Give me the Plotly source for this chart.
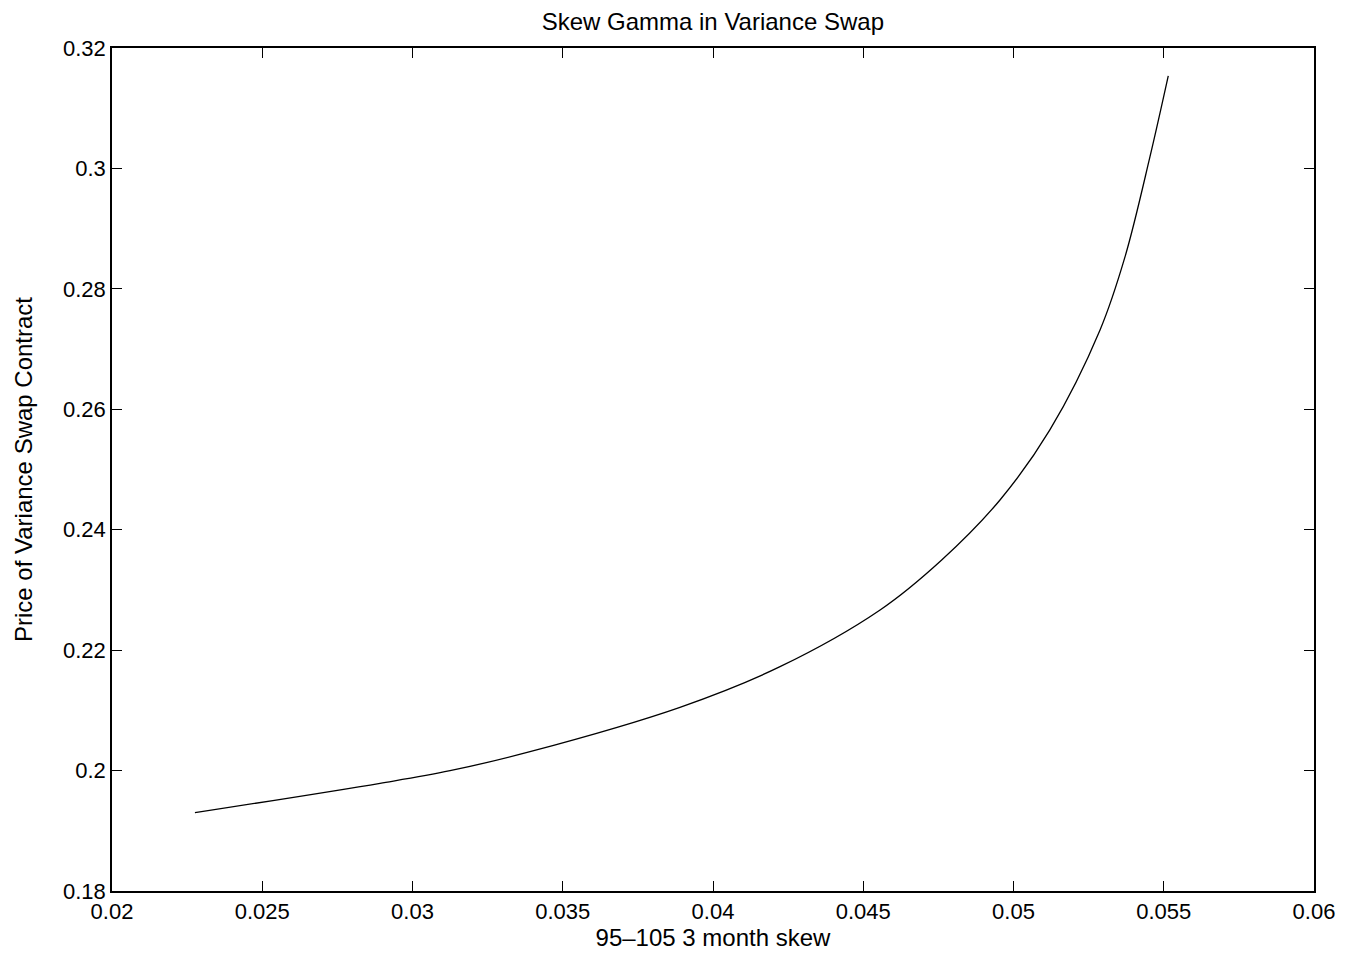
import plotly.graph_objects as go

skew = [0.02276, 0.02892, 0.03125, 0.03391, 0.03890, 0.04223, 0.04556, 0.04761,
        0.04955, 0.05121, 0.05288, 0.05371, 0.05454, 0.05515]
price = [0.19300, 0.19789, 0.19998, 0.20314, 0.21051, 0.21725, 0.22667, 0.23497,
         0.24494, 0.25657, 0.27317, 0.28530, 0.30191, 0.31536]

x_ticks = [0.02, 0.025, 0.03, 0.035, 0.04, 0.045, 0.05, 0.055, 0.06]
x_labels = ["0.02", "0.025", "0.03", "0.035", "0.04", "0.045", "0.05", "0.055", "0.06"]
y_ticks = [0.18, 0.2, 0.22, 0.24, 0.26, 0.28, 0.3, 0.32]
y_labels = ["0.18", "0.2", "0.22", "0.24", "0.26", "0.28", "0.3", "0.32"]

FONT = "Liberation Sans, Arial, Helvetica, sans-serif"

fig = go.Figure()
fig.add_trace(go.Scatter(x=skew, y=price, mode="lines",
                         line=dict(color="black", width=1.3, shape="spline", smoothing=1.0),
                         showlegend=False, hoverinfo="skip"))

axis_common = dict(showgrid=False, zeroline=False, showline=True, linecolor="black",
                   linewidth=1.5, mirror="ticks", ticks="inside", ticklen=10,
                   tickcolor="black", tickwidth=1,
                   tickfont=dict(family=FONT, size=22, color="black"))

fig.update_xaxes(range=[0.02, 0.06], tickvals=x_ticks, ticktext=x_labels,
                 title=dict(text="95\u2013105 3 month skew", font=dict(family=FONT, size=24, color="black"), standoff=4),
                 **axis_common)
fig.update_yaxes(range=[0.18, 0.32], tickvals=y_ticks, ticktext=y_labels,
                 title=dict(text="Price of Variance Swap Contract", font=dict(family=FONT, size=24, color="black"), standoff=24),
                 **axis_common)

fig.update_layout(
    width=1363, height=960,
    margin=dict(l=112, r=49, t=48, b=69),
    plot_bgcolor="white", paper_bgcolor="white",
    title=dict(text="Skew Gamma in Variance Swap", x=0.523, xanchor="center",
               y=1 - 22 / 960, yanchor="middle",
               font=dict(family=FONT, size=24, color="black")),
)

fig.write_html("out.html")
